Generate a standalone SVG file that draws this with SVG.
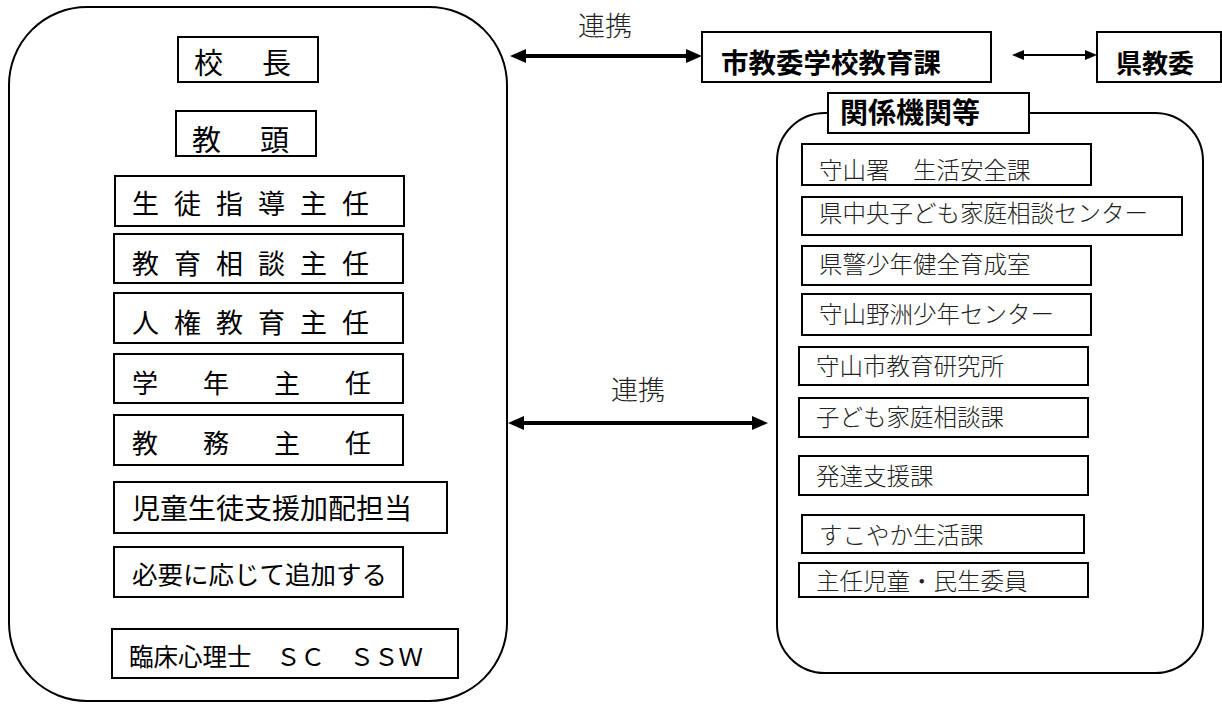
<svg xmlns="http://www.w3.org/2000/svg" width="1222" height="704" viewBox="0 0 1222 704">
<style>
.frame{fill:none;stroke:#000;stroke-width:2}
.box{fill:#fff;stroke:#000;stroke-width:2}
.g{font-family:"Noto Sans CJK JP","Noto Sans",sans-serif;font-weight:400;fill:#000}
.gb{font-family:"Noto Sans CJK JP","Noto Sans",sans-serif;font-weight:700;fill:#000}
.m{font-family:"Noto Sans CJK JP","Noto Sans",sans-serif;font-weight:300;fill:#222}
.thick{stroke:#000;stroke-width:4;fill:none}
.thin{stroke:#000;stroke-width:2;fill:none}
</style>
<defs>
<marker id="ah" markerUnits="userSpaceOnUse" viewBox="0 0 16 14" markerWidth="16" markerHeight="14" refX="6" refY="7" orient="auto-start-reverse"><path d="M0,0 L16,7 L0,14 z" fill="#000"/></marker>
<marker id="ahs" markerUnits="userSpaceOnUse" viewBox="0 0 12 10" markerWidth="12" markerHeight="10" refX="4" refY="5" orient="auto-start-reverse"><path d="M0,0 L12,5 L0,10 z" fill="#000"/></marker>
</defs>
<rect width="1222" height="704" fill="#fff"/>

<g id="school">
<rect class="frame" x="9" y="7" width="498" height="694" rx="78" ry="78"/>
<g id="n-kocho"><rect class="box" x="178" y="37" width="140" height="45"/><text class="g" x="194" y="74" font-size="29" letter-spacing="5">校　長</text></g>
<g id="n-kyoto"><rect class="box" x="176" y="111" width="140" height="45"/><text class="g" x="192" y="151" font-size="29" letter-spacing="5">教　頭</text></g>
<g id="n-seito"><rect class="box" x="115" y="176" width="289" height="50"/><text class="g" x="132" y="214" font-size="27" letter-spacing="15">生徒指導主任</text></g>
<g id="n-sodan"><rect class="box" x="114" y="234" width="289" height="49"/><text class="g" x="132" y="274" font-size="27" letter-spacing="15">教育相談主任</text></g>
<g id="n-jinken"><rect class="box" x="114" y="293" width="289" height="50"/><text class="g" x="132" y="333" font-size="27" letter-spacing="15">人権教育主任</text></g>
<g id="n-gakunen"><rect class="box" x="114" y="354" width="289" height="49"/><text class="g" x="132" y="393" font-size="26" letter-spacing="9.5">学　年　主　任</text></g>
<g id="n-kyomu"><rect class="box" x="114" y="415" width="289" height="50"/><text class="g" x="132" y="453" font-size="26" letter-spacing="9.5">教　務　主　任</text></g>
<g id="n-kahai"><rect class="box" x="114" y="482" width="333" height="51"/><text class="g" x="132" y="519" font-size="28">児童生徒支援加配担当</text></g>
<g id="n-tsuika"><rect class="box" x="114" y="547" width="289" height="50"/><text class="g" x="132" y="584" font-size="25.5">必要に応じて追加する</text></g>
<g id="n-sc"><rect class="box" x="112" y="629" width="346" height="49"/><text class="g" x="129" y="666" font-size="24.5">臨床心理士　ＳＣ　ＳＳＷ</text></g>
</g>

<g id="n-shikyoi"><rect class="box" x="702" y="32" width="289" height="50"/><text class="gb" x="721" y="73" font-size="27.5">市教委学校教育課</text></g>
<g id="n-kenkyoi"><rect class="box" x="1097" y="32" width="124" height="50"/><text class="gb" x="1116" y="73" font-size="26">県教委</text></g>

<g id="agencies">
<rect class="frame" x="777" y="113" width="426" height="560" rx="48" ry="48"/>
<g id="n-kankei"><rect class="box" x="828" y="93" width="201" height="40"/><text class="gb" x="840" y="123" font-size="28">関係機関等</text></g>
<g id="a1"><rect class="box" x="802" y="144" width="289" height="41"/><text class="m" x="819" y="179" font-size="23.5">守山署　生活安全課</text></g>
<g id="a2"><rect class="box" x="802" y="197" width="380" height="38"/><text class="m" x="819" y="222" font-size="23.5">県中央子ども家庭相談センター</text></g>
<g id="a3"><rect class="box" x="802" y="246" width="289" height="39"/><text class="m" x="819" y="273" font-size="23.5">県警少年健全育成室</text></g>
<g id="a4"><rect class="box" x="802" y="294" width="289" height="41"/><text class="m" x="819" y="323" font-size="23.5">守山野洲少年センター</text></g>
<g id="a5"><rect class="box" x="799" y="347" width="289" height="38"/><text class="m" x="816" y="375" font-size="23.5">守山市教育研究所</text></g>
<g id="a6"><rect class="box" x="799" y="398" width="289" height="39"/><text class="m" x="816" y="426" font-size="23.5">子ども家庭相談課</text></g>
<g id="a7"><rect class="box" x="799" y="456" width="289" height="39"/><text class="m" x="816" y="485" font-size="23.5">発達支援課</text></g>
<g id="a8"><rect class="box" x="802" y="515" width="282" height="38"/><text class="m" x="819" y="544" font-size="23.5">すこやか生活課</text></g>
<g id="a9"><rect class="box" x="799" y="563" width="289" height="34"/><text class="m" x="816" y="590" font-size="23.5">主任児童・民生委員</text></g>
</g>

<g id="connectors">
<line class="thick" x1="520" y1="56" x2="692" y2="56" marker-start="url(#ah)" marker-end="url(#ah)"/>
<text class="m" x="605" y="36" font-size="27" text-anchor="middle">連携</text>
<line class="thin" x1="1020" y1="55" x2="1089" y2="55" marker-start="url(#ahs)" marker-end="url(#ahs)"/>
<line class="thick" x1="518" y1="423" x2="758" y2="423" marker-start="url(#ah)" marker-end="url(#ah)"/>
<text class="m" x="638" y="400" font-size="27" text-anchor="middle">連携</text>
</g>
</svg>
